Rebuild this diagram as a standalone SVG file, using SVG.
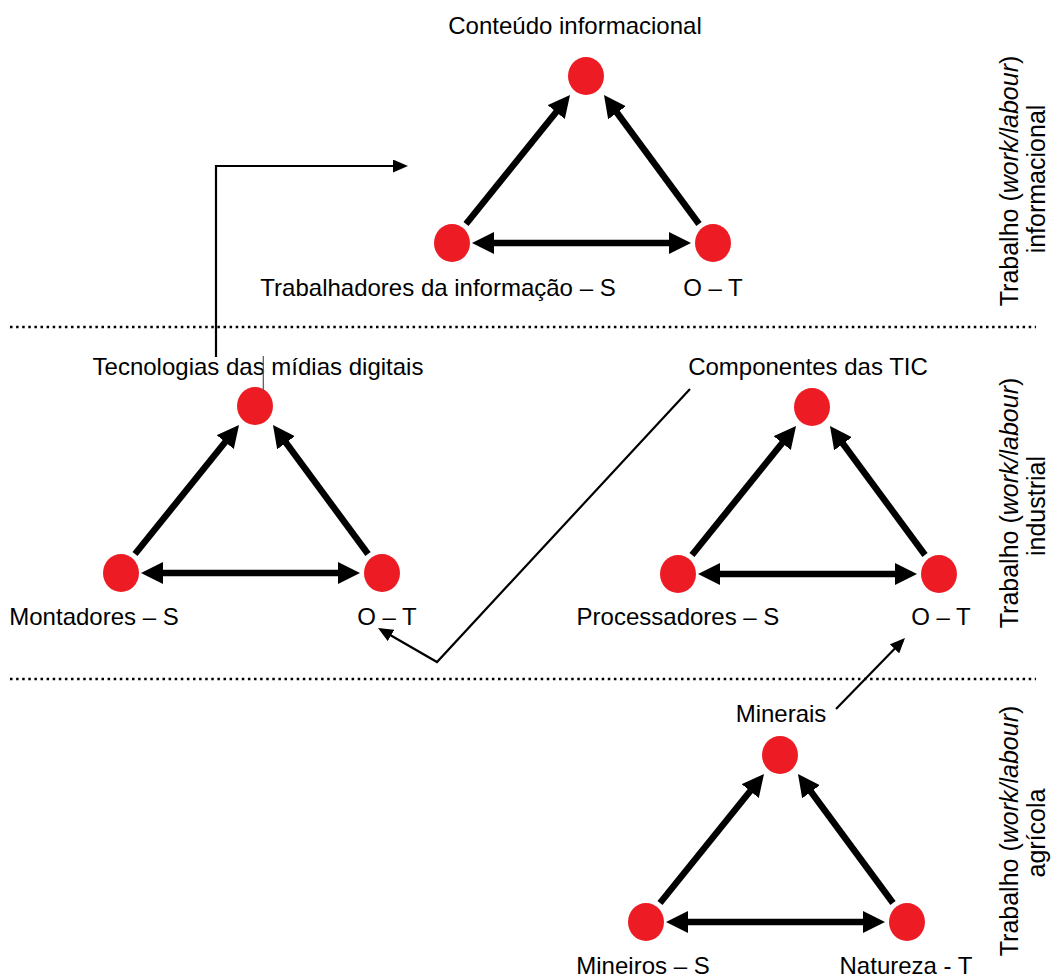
<svg xmlns="http://www.w3.org/2000/svg" width="1054" height="978" viewBox="0 0 1054 978">
<style>
.lbl{font-family:"Liberation Sans",Arial,sans-serif;font-size:24px;fill:#000;text-anchor:middle}
.side{font-family:"Liberation Sans",Arial,sans-serif;font-size:25px;fill:#000;text-anchor:middle}
.node{fill:#ED1C24}
.thick{stroke:#000;stroke-width:6.5;fill:none}
.thin{stroke:#000;stroke-width:2.2;fill:none}
.dots{stroke:#000;stroke-width:2.5;stroke-dasharray:2.5 3.6;fill:none}
</style>
<defs>
<marker id="big" markerUnits="userSpaceOnUse" viewBox="0 0 22 22" markerWidth="22" markerHeight="22" refX="10" refY="11" orient="auto-start-reverse">
<path d="M0,0 L22,11 L0,22 z" fill="#000"/>
</marker>
<marker id="small" markerUnits="userSpaceOnUse" viewBox="0 0 15 13" markerWidth="15" markerHeight="13" refX="12" refY="6.5" orient="auto">
<path d="M0,0 L15,6.5 L0,13 z" fill="#000"/>
</marker>
</defs>

<g id="separators">
<line class="dots" x1="10" y1="327" x2="1036" y2="327"/>
<line class="dots" x1="10" y1="679" x2="1036" y2="679"/>
</g>

<g id="connectors">
<!-- informational triangle -->
<line class="thick" x1="466" y1="224" x2="562.5" y2="104.3" marker-end="url(#big)"/>
<line class="thick" x1="699" y1="224" x2="611.1" y2="104.7" marker-end="url(#big)"/>
<line class="thick" x1="484" y1="243" x2="679" y2="243" marker-start="url(#big)" marker-end="url(#big)"/>
<!-- industrial left triangle -->
<line class="thick" x1="135" y1="554" x2="231.5" y2="434.3" marker-end="url(#big)"/>
<line class="thick" x1="368" y1="554" x2="280.1" y2="434.7" marker-end="url(#big)"/>
<line class="thick" x1="153" y1="573" x2="348" y2="573" marker-start="url(#big)" marker-end="url(#big)"/>
<!-- industrial right triangle -->
<line class="thick" x1="692" y1="555" x2="788.5" y2="435.3" marker-end="url(#big)"/>
<line class="thick" x1="925" y1="555" x2="837.1" y2="435.7" marker-end="url(#big)"/>
<line class="thick" x1="710" y1="574" x2="905" y2="574" marker-start="url(#big)" marker-end="url(#big)"/>
<!-- agricultural triangle -->
<line class="thick" x1="660" y1="903" x2="756.5" y2="783.3" marker-end="url(#big)"/>
<line class="thick" x1="893" y1="903" x2="805.1" y2="783.7" marker-end="url(#big)"/>
<line class="thick" x1="678" y1="922" x2="873" y2="922" marker-start="url(#big)" marker-end="url(#big)"/>
<!-- links between levels -->
<path class="thin" d="M216,357 V166 H405" stroke-width="2.6" marker-end="url(#small)"/>
<path class="thin" d="M690,389 L437,662 L380.6,629.5" marker-end="url(#small)"/>
<path class="thin" d="M836,709 L902.9,640.2" marker-end="url(#small)"/>
</g>

<g id="conteudo">
<ellipse class="node" cx="586" cy="76" rx="18" ry="19"/>
<text class="lbl" x="575" y="34">Conteúdo informacional</text>
</g>
<g id="trabalhadores">
<ellipse class="node" cx="452" cy="243" rx="18" ry="19"/>
<text class="lbl" x="438" y="296">Trabalhadores da informação – S</text>
</g>
<g id="ot-info">
<ellipse class="node" cx="713" cy="243" rx="18" ry="19"/>
<text class="lbl" x="713" y="296">O – T</text>
</g>

<g id="tecnologias">
<ellipse class="node" cx="255" cy="406" rx="18" ry="19"/>
<text class="lbl" x="258" y="375">Tecnologias das mídias digitais</text>
<line x1="263.3" y1="356" x2="263.3" y2="391" stroke="#555" stroke-width="1.2"/>
</g>
<g id="montadores">
<ellipse class="node" cx="121" cy="573" rx="18" ry="19"/>
<text class="lbl" x="94" y="625">Montadores – S</text>
</g>
<g id="ot-left">
<ellipse class="node" cx="382" cy="573" rx="18" ry="19"/>
<text class="lbl" x="387" y="625">O – T</text>
</g>

<g id="componentes">
<ellipse class="node" cx="812" cy="407" rx="18" ry="19"/>
<text class="lbl" x="808" y="375">Componentes das TIC</text>
</g>
<g id="processadores">
<ellipse class="node" cx="678" cy="574" rx="18" ry="19"/>
<text class="lbl" x="678" y="625">Processadores – S</text>
</g>
<g id="ot-right">
<ellipse class="node" cx="939" cy="574" rx="18" ry="19"/>
<text class="lbl" x="941" y="625">O – T</text>
</g>

<g id="minerais">
<ellipse class="node" cx="780" cy="755" rx="18" ry="19"/>
<text class="lbl" x="781" y="722">Minerais</text>
</g>
<g id="mineiros">
<ellipse class="node" cx="646" cy="922" rx="18" ry="19"/>
<text class="lbl" x="643" y="974">Mineiros – S</text>
</g>
<g id="natureza">
<ellipse class="node" cx="907" cy="922" rx="18" ry="19"/>
<text class="lbl" x="906" y="974">Natureza - T</text>
</g>

<g id="level-labels">
<text class="side" transform="translate(1018,181) rotate(-90)">Trabalho (<tspan font-style="italic">work/labour</tspan>)</text>
<text class="side" transform="translate(1045,179) rotate(-90)">informacional</text>
<text class="side" transform="translate(1018,503) rotate(-90)">Trabalho (<tspan font-style="italic">work/labour</tspan>)</text>
<text class="side" transform="translate(1045,506) rotate(-90)">industrial</text>
<text class="side" transform="translate(1018,831) rotate(-90)">Trabalho (<tspan font-style="italic">work/labour</tspan>)</text>
<text class="side" transform="translate(1045,833) rotate(-90)">agrícola</text>
</g>
</svg>
